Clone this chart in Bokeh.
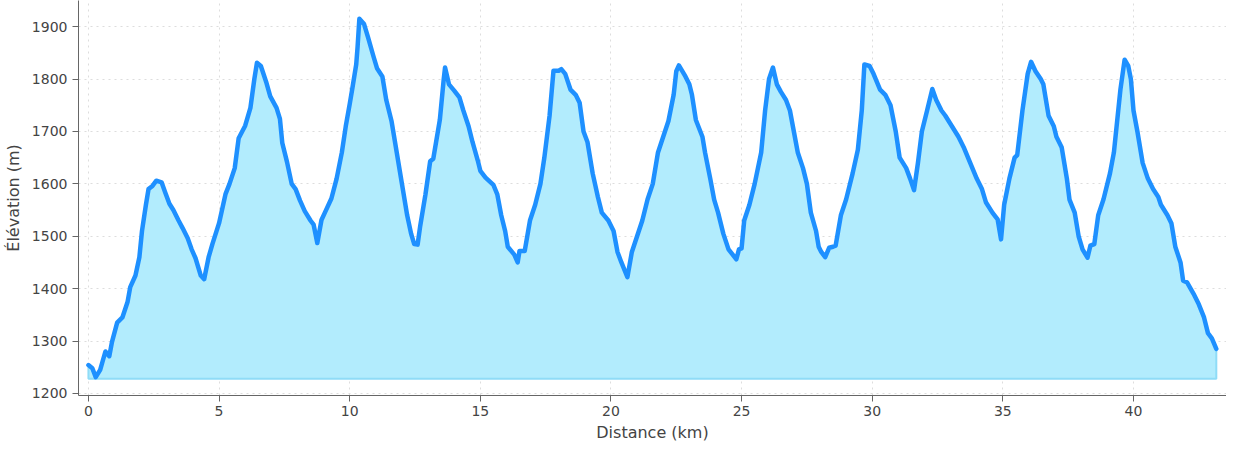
from bokeh.plotting import figure
from bokeh.models import Range1d, FixedTicker
from bokeh.embed import file_html
from bokeh.resources import INLINE

distance_km = [0.0, 0.15, 0.28, 0.45, 0.65, 0.8, 0.9, 1.1, 1.3, 1.5, 1.6, 1.8, 1.95, 2.05, 2.2, 2.3, 2.45, 2.6, 2.8, 2.95,
               3.1, 3.25, 3.45, 3.6, 3.8, 3.95, 4.1, 4.3, 4.43, 4.6, 4.75, 5.0, 5.25, 5.4, 5.6, 5.75, 6.0, 6.2, 6.35, 6.45,
               6.6, 6.8, 6.96, 7.2, 7.33, 7.42, 7.6, 7.78, 7.93, 8.1, 8.28, 8.5, 8.62, 8.76, 8.92, 9.05, 9.3, 9.5, 9.7, 9.85,
               10.0, 10.1, 10.25, 10.3, 10.37, 10.55, 10.7, 10.9, 11.05, 11.25, 11.4, 11.6, 11.8, 12.0, 12.2, 12.35, 12.47, 12.6, 12.7, 12.9,
               13.08, 13.2, 13.45, 13.6, 13.65, 13.8, 14.0, 14.2, 14.35, 14.55, 14.7, 14.9, 15.0, 15.2, 15.5, 15.65, 15.8, 15.95, 16.05, 16.3,
               16.43, 16.5, 16.7, 16.9, 17.1, 17.3, 17.45, 17.65, 17.8, 18.0, 18.1, 18.25, 18.45, 18.65, 18.8, 18.95, 19.1, 19.3, 19.5, 19.65,
               19.9, 20.1, 20.25, 20.4, 20.63, 20.8, 21.0, 21.2, 21.4, 21.6, 21.8, 22.0, 22.2, 22.4, 22.5, 22.6, 22.85, 23.0, 23.1, 23.25,
               23.5, 23.6, 23.8, 23.95, 24.1, 24.3, 24.5, 24.8, 24.9, 25.0, 25.1, 25.3, 25.5, 25.75, 25.9, 26.05, 26.2, 26.35, 26.5, 26.7,
               26.85, 27.0, 27.15, 27.35, 27.5, 27.65, 27.85, 27.95, 28.05, 28.2, 28.35, 28.5, 28.6, 28.8, 29.0, 29.25, 29.45, 29.6, 29.7, 29.9,
               30.05, 30.3, 30.5, 30.7, 30.9, 31.05, 31.3, 31.45, 31.6, 31.75, 31.9, 32.1, 32.3, 32.45, 32.65, 32.8, 33.05, 33.3, 33.5, 33.75,
               34.0, 34.2, 34.35, 34.6, 34.8, 34.93, 35.05, 35.25, 35.45, 35.55, 35.75, 35.95, 36.08, 36.25, 36.45, 36.55, 36.75, 36.95, 37.05, 37.25,
               37.45, 37.55, 37.75, 37.9, 38.05, 38.24, 38.35, 38.5, 38.65, 38.85, 39.1, 39.25, 39.5, 39.66, 39.8, 39.9, 40.0, 40.15, 40.35, 40.55,
               40.75, 40.95, 41.05, 41.3, 41.45, 41.6, 41.8, 41.9, 42.05, 42.3, 42.5, 42.7, 42.85, 43.0, 43.17]

elevation_m = [1254, 1248, 1231, 1245, 1280, 1271, 1298, 1335, 1345, 1375, 1403, 1425, 1460, 1510, 1560, 1590, 1596, 1606, 1603, 1582,
               1562, 1550, 1530, 1516, 1496, 1475, 1458, 1425, 1418, 1460, 1486, 1525, 1581, 1600, 1630, 1687, 1711, 1745, 1800, 1831,
               1825, 1795, 1767, 1745, 1724, 1678, 1642, 1600, 1590, 1568, 1548, 1530, 1522, 1487, 1531, 1545, 1572, 1610, 1660, 1710,
               1752, 1782, 1828, 1860, 1915, 1905, 1880, 1845, 1820, 1805, 1760, 1720, 1660, 1600, 1540, 1505, 1485, 1484, 1520, 1580,
               1643, 1648, 1722, 1800, 1822, 1790, 1778, 1765, 1740, 1710, 1680, 1645, 1625, 1612, 1598, 1580, 1540, 1510, 1480, 1465,
               1450, 1472, 1472, 1530, 1560, 1600, 1650, 1730, 1816, 1816, 1819, 1810, 1780, 1770, 1755, 1700, 1680, 1620, 1575, 1545,
               1530, 1510, 1470, 1450, 1422, 1470, 1500, 1530, 1570, 1600, 1660, 1690, 1720, 1770, 1815, 1826, 1805, 1790, 1770, 1722,
               1690, 1660, 1610, 1570, 1545, 1505, 1475, 1456, 1475, 1477, 1530, 1560, 1600, 1660, 1740, 1800, 1822, 1790, 1776, 1760,
               1740, 1700, 1660, 1630, 1600, 1545, 1510, 1480, 1470, 1460, 1478, 1480, 1482, 1540, 1570, 1620, 1665, 1740, 1828, 1825,
               1810, 1780, 1770, 1750, 1700, 1650, 1630, 1610, 1588, 1640, 1700, 1740, 1781, 1760, 1740, 1730, 1710, 1690, 1670, 1640,
               1610, 1590, 1565, 1545, 1532, 1494, 1560, 1610, 1650, 1655, 1740, 1810, 1833, 1815, 1800, 1790, 1730, 1710, 1690, 1670,
               1610, 1570, 1545, 1500, 1475, 1459, 1482, 1485, 1540, 1570, 1620, 1660, 1780, 1837, 1825, 1800, 1740, 1700, 1640, 1610,
               1590, 1575, 1560, 1540, 1525, 1480, 1450, 1415, 1412, 1390, 1370, 1345, 1315, 1305, 1285]

base_m = 1228
x_ticks = [0, 5, 10, 15, 20, 25, 30, 35, 40]
y_ticks = [1200, 1300, 1400, 1500, 1600, 1700, 1800, 1900]

p = figure(width=1226, height=444, output_backend="svg", toolbar_location=None,
           x_range=Range1d(-0.38, 43.56), y_range=Range1d(1196, 1950),
           min_border_left=70, min_border_right=0, min_border_top=0, min_border_bottom=0)
p.outline_line_color = None
p.background_fill_color = "white"

# filled area
xs = [distance_km[0]] + distance_km + [distance_km[-1]]
ys = [base_m] + elevation_m + [base_m]
p.patch(xs, ys, fill_color="#b2ecfd", fill_alpha=1.0, line_color="#8fdcf7", line_width=2)
p.line(distance_km, elevation_m, line_color="#1e90ff", line_width=4.5, line_join="round", line_cap="round")

for ax in (p.xaxis[0], p.yaxis[0]):
    ax.axis_line_color = "#666666"
    ax.major_tick_line_color = "#666666"
    ax.major_tick_out = 6
    ax.major_tick_in = 0
    ax.minor_tick_line_color = None
    ax.major_label_text_font = "DejaVu Sans"
    ax.major_label_text_font_size = "14px"
    ax.major_label_text_color = "#444444"
    ax.axis_label_text_font = "DejaVu Sans"
    ax.axis_label_text_font_size = "16px"
    ax.axis_label_text_font_style = "normal"
    ax.axis_label_text_color = "#444444"

p.xaxis.axis_label = "Distance (km)"
p.yaxis.axis_label = "Élévation (m)"
p.xaxis.ticker = FixedTicker(ticks=x_ticks)
p.yaxis.ticker = FixedTicker(ticks=y_ticks)
p.xaxis.axis_label_standoff = 4
p.xaxis.major_label_standoff = 4
p.yaxis.axis_label_standoff = 6

p.xgrid.ticker = FixedTicker(ticks=x_ticks)
p.ygrid.ticker = FixedTicker(ticks=y_ticks)
for g in (p.xgrid[0], p.ygrid[0]):
    g.grid_line_color = "#dddddd"
    g.grid_line_dash = "2 4"
    g.grid_line_width = 1

open("out.html", "w").write(file_html(p, INLINE))
